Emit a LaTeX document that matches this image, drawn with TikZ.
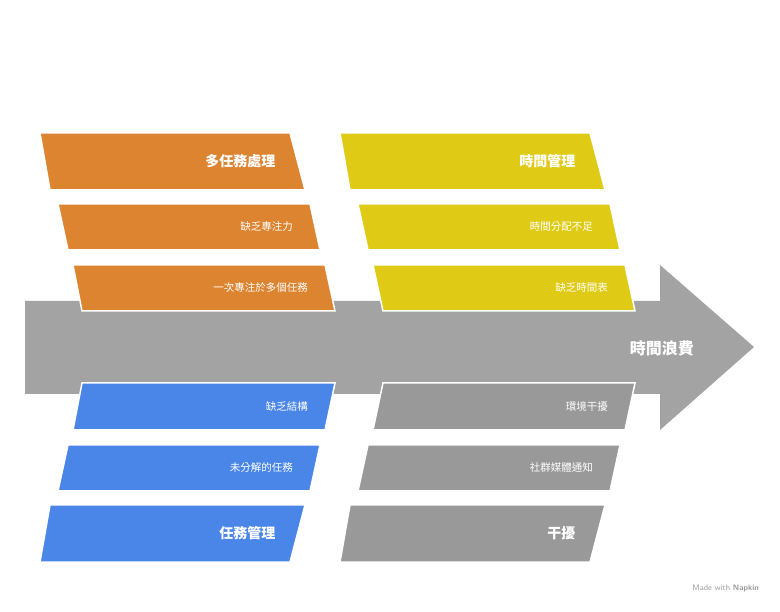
\documentclass[tikz,border=0pt]{standalone}
\usepackage{fontspec}
\newfontfamily\cjk{Noto Sans CJK TC}
\definecolor{corange}{HTML}{DD8431}
\definecolor{cyellow}{HTML}{DFCB16}
\definecolor{cblue}{HTML}{4A86E8}
\definecolor{cgray}{HTML}{999999}
\definecolor{carrow}{HTML}{A3A3A3}
\tikzset{
  parabox/.style={draw=white,line width=1.5pt,line join=miter},
  titletxt/.style={text=white,font=\cjk\bfseries\fontsize{14}{16}\selectfont,anchor=east,inner sep=0pt},
  subtxt/.style={text=white,font=\cjk\fontsize{10.5}{12}\selectfont,anchor=east,inner sep=0pt}
}
% #1 name #2 topL #3 topR #4 botL #5 botR #6 ytop #7 ybot #8 color #9 style/text
\newcommand{\pbox}[9]{%
  \fill[#8] (#2,#6) -- (#3,#6) -- (#5,#7) -- (#4,#7) -- cycle;
  \draw[parabox] (#2,#6) -- (#3,#6) -- (#5,#7) -- (#4,#7) -- cycle;
  \node[#9] (#1) at ({(#3+#5)/2-22},{(#6+#7)/2}) {#1};}
\begin{document}
\begin{tikzpicture}[x=1pt,y=-1pt]
\useasboundingbox (0,0) rectangle (780,612);
\fill[white] (0,0) rectangle (780,612);
% arrow
\fill[carrow] (25,301) -- (660,301) -- (660,265) -- (754,347) -- (660,430) -- (660,394) -- (25,394) -- cycle;
\node[titletxt,font=\cjk\bfseries\fontsize{16}{18}\selectfont] (spine) at (694,348) {時間浪費};
% top left
\pbox{多任務處理}{40}{290}{50}{305}{133}{190}{corange}{titletxt}
\pbox{缺乏專注力}{58}{310}{68}{320}{204}{250}{corange}{subtxt}
\pbox{一次專注於多個任務}{73}{325}{82}{335}{265}{311}{corange}{subtxt}
% top right
\pbox{時間管理}{340}{590}{350}{605}{133}{190}{cyellow}{titletxt}
\pbox{時間分配不足}{358}{610}{368}{620}{204}{250}{cyellow}{subtxt}
\pbox{缺乏時間表}{373}{625}{383}{635}{265}{311}{cyellow}{subtxt}
% bottom left
\pbox{缺乏結構}{82}{335}{73}{325}{383}{430}{cblue}{subtxt}
\pbox{未分解的任務}{68}{320}{58}{310}{445}{491}{cblue}{subtxt}
\pbox{任務管理}{50}{305}{40}{290}{505}{562}{cblue}{titletxt}
% bottom right
\pbox{環境干擾}{383}{635}{373}{625}{383}{430}{cgray}{subtxt}
\pbox{社群媒體通知}{368}{620}{358}{610}{445}{491}{cgray}{subtxt}
\pbox{干擾}{350}{605}{340}{590}{505}{562}{cgray}{titletxt}
\node[text=cgray,font=\sffamily\fontsize{8}{9}\selectfont,anchor=east,inner sep=0pt] (credit) at (759,588) {Made with \textbf{Napkin}};
\end{tikzpicture}
\end{document}
